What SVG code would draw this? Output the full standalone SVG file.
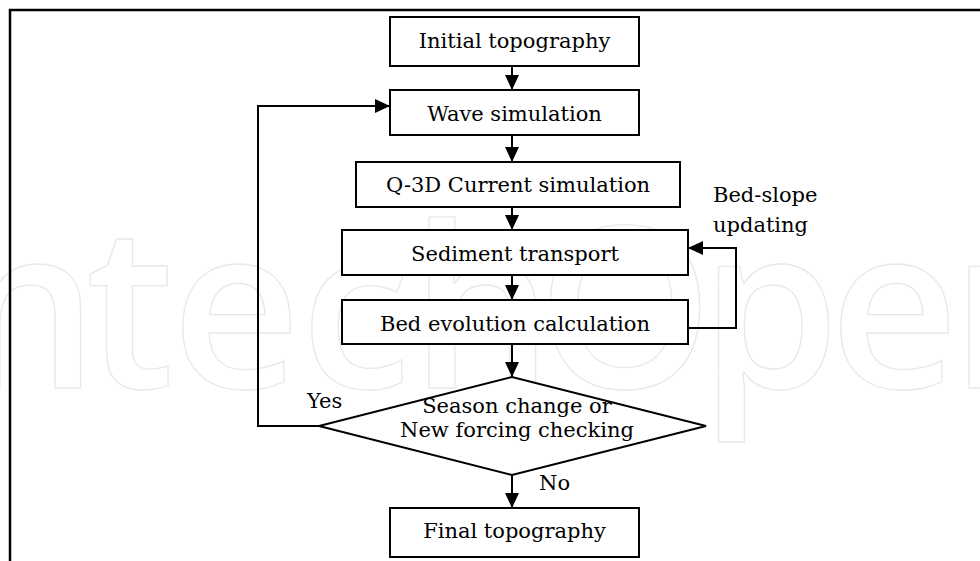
<svg xmlns="http://www.w3.org/2000/svg" width="980" height="561" viewBox="0 0 980 561">
<style>
  .wm { font-family: "Open Sans", "DejaVu Sans", sans-serif; font-size: 224px; font-weight: 600; fill: none; stroke: #e8e8e8; stroke-width: 1.3; text-anchor: middle; }
  .box { fill: #ffffff; stroke: #000000; stroke-width: 2; }
  .lbl { font-family: "DejaVu Serif", "Liberation Serif", serif; font-size: 21px; fill: #000000; text-anchor: middle; }
  .note { font-family: "DejaVu Serif", "Liberation Serif", serif; font-size: 21px; fill: #000000; }
  .edge { fill: none; stroke: #000000; stroke-width: 2; }
  .frame { fill: none; stroke: #000000; stroke-width: 2.5; }
</style>
<defs>
  <marker id="arrow" markerUnits="userSpaceOnUse" markerWidth="16" markerHeight="16" refX="15" refY="7" orient="auto">
    <path d="M0,0 L15,7 L0,14 z" fill="#000000"/>
  </marker>
</defs>
<rect x="0" y="0" width="980" height="561" fill="#ffffff"/>
<g id="watermark">
  <text class="wm" y="388"><tspan x="27">n</tspan><tspan x="130">t</tspan><tspan x="236">e</tspan><tspan x="356">c</tspan><tspan x="482">h</tspan><tspan x="625">O</tspan><tspan x="770">p</tspan><tspan x="894">e</tspan><tspan x="1022">n</tspan></text>
</g>
<path class="frame" d="M10,561 V10 H980"/>
<g id="connectors">
  <path class="edge" d="M512,66 V90" marker-end="url(#arrow)"/>
  <path class="edge" d="M512,135 V162" marker-end="url(#arrow)"/>
  <path class="edge" d="M512,207 V230" marker-end="url(#arrow)"/>
  <path class="edge" d="M512,275 V300" marker-end="url(#arrow)"/>
  <path class="edge" d="M512,344 V377" marker-end="url(#arrow)"/>
  <path class="edge" d="M512,475 V508" marker-end="url(#arrow)"/>
  <path class="edge" d="M319,426 H258 V106 H390" marker-end="url(#arrow)"/>
  <path class="edge" d="M688,328 H736 V248 H688" marker-end="url(#arrow)"/>
  <text class="note" x="713" y="202">Bed-slope</text>
  <text class="note" x="713" y="232">updating</text>
  <text class="note" x="307" y="408">Yes</text>
  <text class="note" x="539" y="490">No</text>
</g>
<g id="initial">
  <rect class="box" x="390" y="17" width="249" height="49"/>
  <text class="lbl" x="514.5" y="48">Initial topography</text>
</g>
<g id="wave">
  <rect class="box" x="390" y="90" width="249" height="45"/>
  <text class="lbl" x="514.5" y="121">Wave simulation</text>
</g>
<g id="current">
  <rect class="box" x="356" y="162" width="324" height="45"/>
  <text class="lbl" x="518" y="192">Q-3D Current simulation</text>
</g>
<g id="sediment">
  <rect class="box" x="342" y="230" width="346" height="45"/>
  <text class="lbl" x="515" y="261">Sediment transport</text>
</g>
<g id="bed">
  <rect class="box" x="342" y="300" width="346" height="44"/>
  <text class="lbl" x="515" y="331">Bed evolution calculation</text>
</g>
<g id="decision">
  <polygon class="box" points="319,426 512,377 706,426 512,475"/>
  <text class="lbl" x="517" y="413">Season change or</text>
  <text class="lbl" x="517" y="437">New forcing checking</text>
</g>
<g id="final">
  <rect class="box" x="390" y="508" width="249" height="49"/>
  <text class="lbl" x="514.5" y="538">Final topography</text>
</g>
</svg>
